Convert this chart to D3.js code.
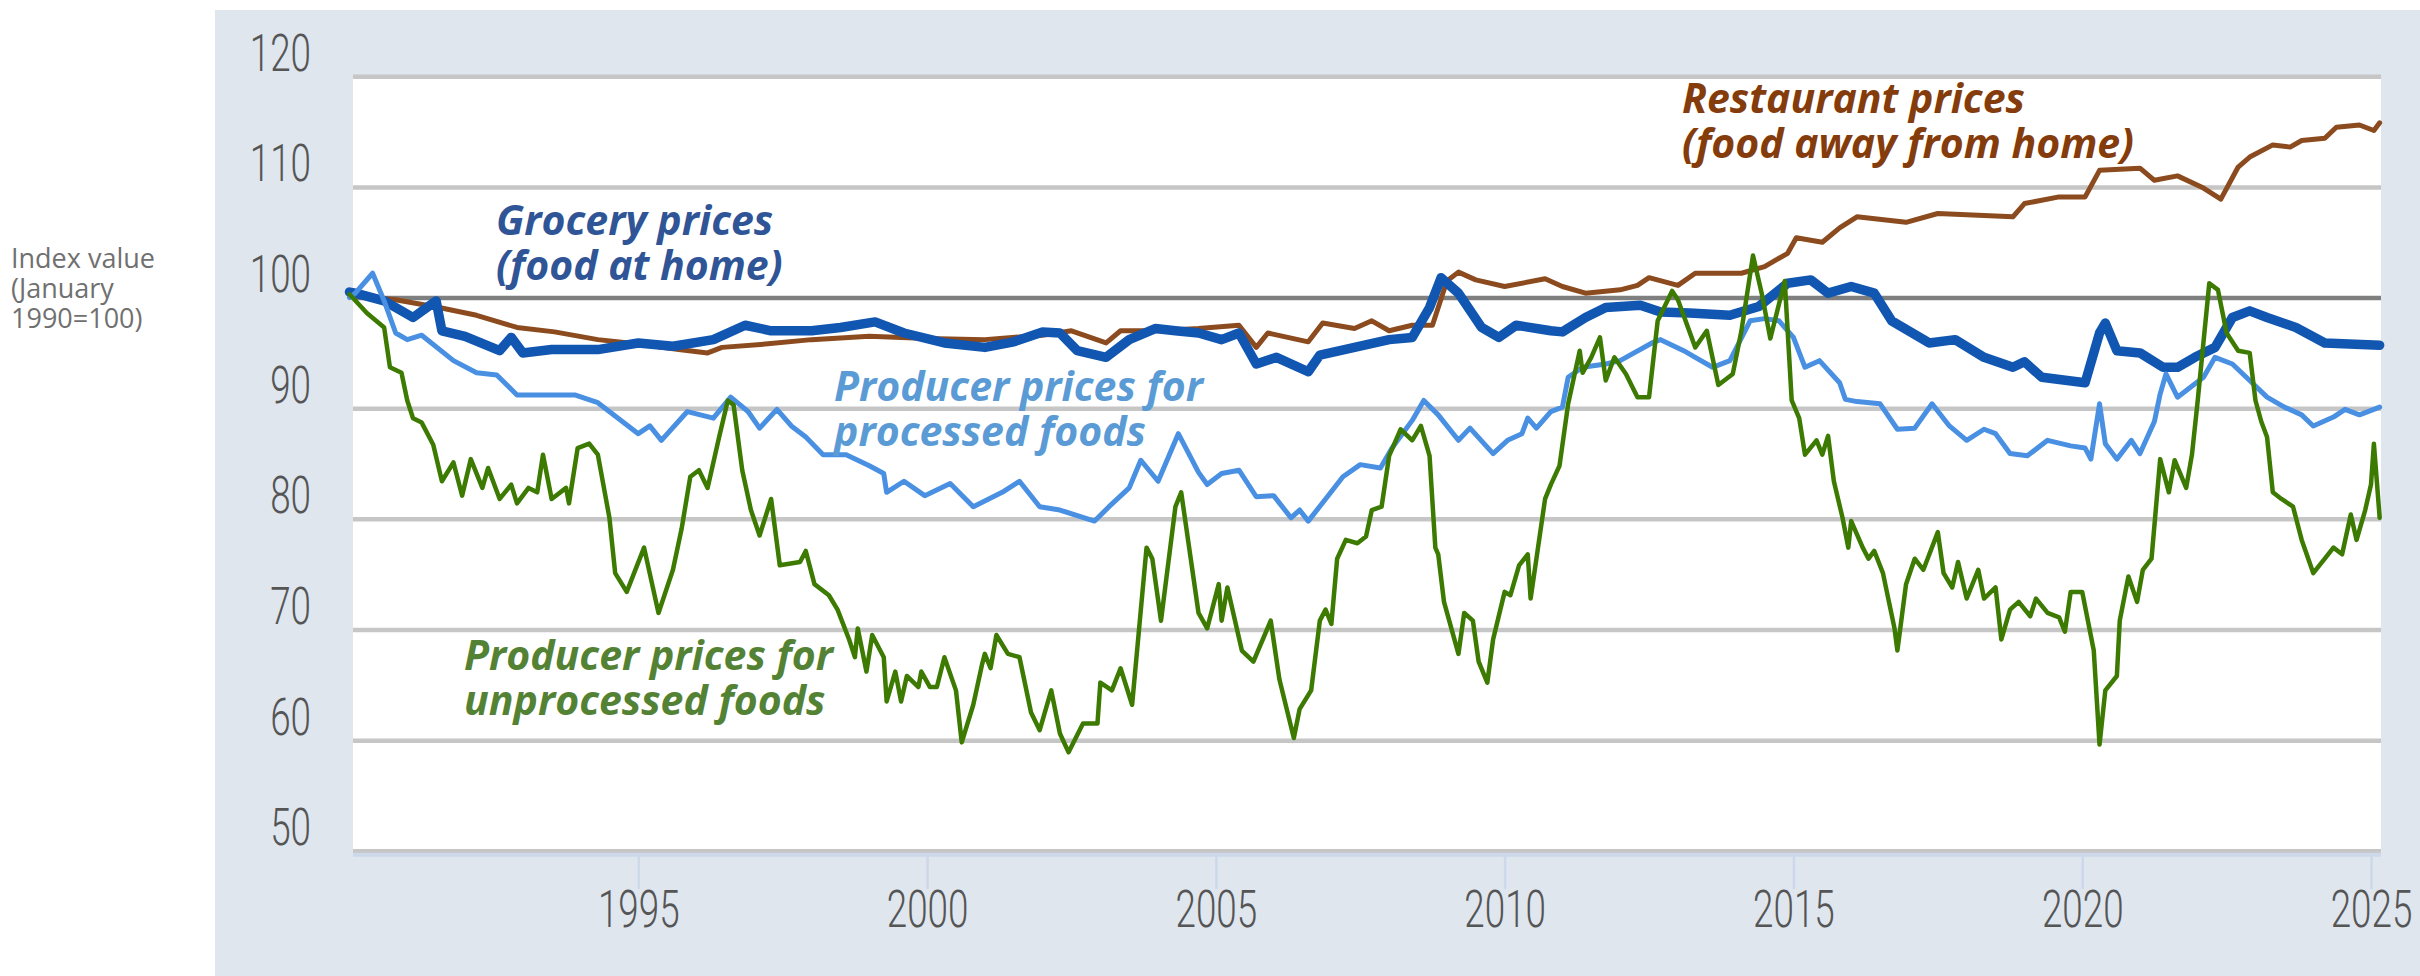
<!DOCTYPE html>
<html>
<head>
<meta charset="utf-8">
<script src="https://cdn.jsdelivr.net/npm/d3@7"></script>
<style>
  body { margin: 0; background: #ffffff; }
  svg { display: block; }
</style>
</head>
<body>
<svg id="chart" width="2420" height="976"></svg>
<script>
// tick values
var yTicks = [50, 60, 70, 80, 90, 100, 110, 120];
var xTicks = [1995, 2000, 2005, 2010, 2015, 2020, 2025];

// series, [year, index value]
var groceryData = [
  [1990.0, 100.5], [1990.1, 100.4], [1990.6, 99.7], [1991.1, 98.2], [1991.5, 99.7], [1991.6, 97.0],
  [1992.0, 96.5], [1992.6, 95.2], [1992.8, 96.4], [1993.0, 95.0], [1993.5, 95.3], [1994.3, 95.3],
  [1995.0, 95.9], [1995.6, 95.6], [1996.3, 96.2], [1996.85, 97.5], [1997.3, 97.0], [1998.0, 97.0],
  [1998.5, 97.3], [1999.1, 97.8], [1999.6, 96.8], [2000.3, 95.9], [2001.0, 95.5], [2001.5, 96.0],
  [2002.0, 96.9], [2002.3, 96.8], [2002.6, 95.2], [2003.1, 94.6], [2003.5, 96.2], [2003.95, 97.2],
  [2004.3, 97.0], [2004.7, 96.8], [2005.1, 96.2], [2005.4, 96.8], [2005.7, 94.0], [2006.05, 94.6],
  [2006.6, 93.3], [2006.8, 94.8], [2007.4, 95.5], [2008.0, 96.2], [2008.4, 96.4], [2008.7, 99.1],
  [2008.9, 101.8], [2009.2, 100.4], [2009.6, 97.3], [2009.9, 96.4], [2010.2, 97.5], [2010.8, 97.0],
  [2011.0, 96.9], [2011.4, 98.2], [2011.75, 99.1], [2012.35, 99.3], [2012.7, 98.7], [2013.2, 98.6],
  [2013.9, 98.4], [2014.4, 99.2], [2014.9, 101.3], [2015.3, 101.6], [2015.6, 100.4], [2016.0, 101.0],
  [2016.4, 100.4], [2016.7, 97.9], [2017.35, 95.9], [2017.8, 96.2], [2018.3, 94.6], [2018.8, 93.7],
  [2019.0, 94.2], [2019.3, 92.8], [2020.05, 92.3], [2020.3, 96.8], [2020.4, 97.7], [2020.6, 95.2],
  [2021.0, 95.0], [2021.4, 93.7], [2021.65, 93.7], [2021.95, 94.6], [2022.3, 95.5], [2022.6, 98.2],
  [2022.9, 98.8], [2023.2, 98.2], [2023.7, 97.3], [2024.2, 95.9], [2025.15, 95.7]
];

var restaurantData = [
  [1990.0, 100.2], [1990.8, 99.8], [1991.55, 99.1], [1992.2, 98.4], [1992.9, 97.3], [1993.55, 96.9],
  [1994.3, 96.2], [1995.0, 95.8], [1995.7, 95.3], [1996.2, 95.0], [1996.45, 95.5], [1997.2, 95.8],
  [1998.0, 96.2], [1999.0, 96.5], [2000.0, 96.3], [2001.0, 96.2], [2002.0, 96.6], [2002.5, 97.0],
  [2003.1, 95.9], [2003.35, 97.0], [2004.0, 97.0], [2004.7, 97.2], [2005.4, 97.5], [2005.7, 95.5],
  [2005.9, 96.8], [2006.6, 96.0], [2006.85, 97.7], [2007.4, 97.2], [2007.7, 97.9], [2008.0, 97.0],
  [2008.4, 97.5], [2008.75, 97.5], [2009.0, 101.5], [2009.2, 102.3], [2009.5, 101.6], [2010.0, 101.0],
  [2010.7, 101.7], [2011.0, 101.0], [2011.4, 100.4], [2012.0, 100.7], [2012.3, 101.1], [2012.5, 101.8],
  [2013.0, 101.1], [2013.3, 102.2], [2014.1, 102.2], [2014.5, 102.8], [2014.9, 104.0], [2015.05, 105.4],
  [2015.5, 105.0], [2015.8, 106.3], [2016.1, 107.3], [2016.95, 106.8], [2017.5, 107.6], [2018.8, 107.3],
  [2019.0, 108.5], [2019.6, 109.1], [2020.05, 109.1], [2020.3, 111.5], [2021.0, 111.7], [2021.25, 110.6],
  [2021.65, 111.0], [2022.1, 109.9], [2022.4, 108.9], [2022.7, 111.8], [2022.9, 112.7], [2023.3, 113.8],
  [2023.6, 113.6], [2023.8, 114.2], [2024.2, 114.4], [2024.4, 115.4], [2024.8, 115.6], [2025.05, 115.1],
  [2025.15, 115.8]
];

var processedData = [
  [1990.0, 100.0], [1990.1, 100.4], [1990.4, 102.2], [1990.6, 99.7], [1990.8, 96.8], [1991.0, 96.2],
  [1991.25, 96.6], [1991.8, 94.3], [1992.2, 93.2], [1992.55, 93.0], [1992.9, 91.2], [1993.9, 91.2],
  [1994.3, 90.5], [1995.0, 87.7], [1995.2, 88.4], [1995.4, 87.1], [1995.85, 89.7], [1996.3, 89.1],
  [1996.6, 91.0], [1996.9, 89.7], [1997.1, 88.2], [1997.4, 89.9], [1997.65, 88.4], [1997.9, 87.4],
  [1998.2, 85.8], [1998.6, 85.8], [1999.0, 84.8], [1999.25, 84.1], [1999.3, 82.4], [1999.6, 83.4],
  [1999.96, 82.1], [2000.4, 83.2], [2000.8, 81.1], [2001.3, 82.4], [2001.6, 83.4], [2001.95, 81.1],
  [2002.3, 80.8], [2002.9, 79.8], [2003.15, 81.1], [2003.5, 82.8], [2003.7, 85.3], [2004.0, 83.4],
  [2004.35, 87.7], [2004.7, 84.2], [2004.85, 83.1], [2005.1, 84.1], [2005.4, 84.4], [2005.7, 82.0],
  [2006.0, 82.1], [2006.3, 80.1], [2006.45, 80.8], [2006.6, 79.8], [2006.9, 81.8], [2007.2, 83.8],
  [2007.5, 84.9], [2007.85, 84.6], [2008.05, 86.4], [2008.4, 88.9], [2008.6, 90.7], [2008.85, 89.4],
  [2009.2, 87.1], [2009.4, 88.2], [2009.8, 85.9], [2010.05, 87.1], [2010.3, 87.7], [2010.4, 89.1],
  [2010.55, 88.2], [2010.8, 89.7], [2011.0, 90.1], [2011.1, 92.8], [2011.35, 93.7], [2011.75, 94.0],
  [2012.0, 94.3], [2012.55, 95.9], [2012.7, 96.2], [2013.1, 95.2], [2013.3, 94.6], [2013.6, 93.7],
  [2013.9, 94.3], [2014.25, 97.9], [2014.5, 98.1], [2014.75, 97.9], [2015.0, 96.4], [2015.2, 93.7],
  [2015.45, 94.3], [2015.8, 92.3], [2015.9, 90.8], [2016.1, 90.6], [2016.5, 90.4], [2016.8, 88.1],
  [2017.1, 88.2], [2017.4, 90.4], [2017.7, 88.4], [2018.0, 87.1], [2018.3, 88.1], [2018.5, 87.7],
  [2018.75, 85.9], [2019.05, 85.7], [2019.4, 87.1], [2019.8, 86.6], [2020.05, 86.4], [2020.15, 85.4],
  [2020.3, 90.4], [2020.4, 86.8], [2020.6, 85.4], [2020.85, 87.1], [2021.0, 85.9], [2021.25, 88.8],
  [2021.35, 91.3], [2021.45, 93.1], [2021.65, 91.0], [2022.1, 92.8], [2022.3, 94.6], [2022.6, 94.0],
  [2022.9, 92.5], [2023.2, 91.0], [2023.5, 90.1], [2023.8, 89.4], [2024.0, 88.4], [2024.35, 89.2],
  [2024.55, 89.9], [2024.8, 89.4], [2025.15, 90.1]
];

var unprocessedData = [
  [1990.0, 100.3], [1990.3, 98.6], [1990.6, 97.3], [1990.7, 93.7], [1990.9, 93.2], [1991.0, 90.7],
  [1991.1, 89.1], [1991.25, 88.7], [1991.45, 86.7], [1991.6, 83.4], [1991.8, 85.1], [1991.95, 82.1],
  [1992.1, 85.4], [1992.3, 82.8], [1992.4, 84.6], [1992.6, 81.8], [1992.8, 83.1], [1992.9, 81.4],
  [1993.1, 82.8], [1993.25, 82.4], [1993.35, 85.8], [1993.5, 81.8], [1993.75, 82.8], [1993.8, 81.4],
  [1993.95, 86.4], [1994.15, 86.8], [1994.3, 85.8], [1994.5, 80.1], [1994.6, 75.1], [1994.8, 73.4],
  [1995.1, 77.4], [1995.35, 71.5], [1995.6, 75.4], [1995.75, 79.1], [1995.9, 83.8], [1996.05, 84.4],
  [1996.2, 82.8], [1996.4, 87.4], [1996.55, 90.7], [1996.65, 90.3], [1996.8, 84.4], [1996.95, 80.8],
  [1997.1, 78.5], [1997.3, 81.8], [1997.45, 75.8], [1997.8, 76.1], [1997.9, 77.1], [1998.05, 74.1],
  [1998.3, 73.1], [1998.45, 71.8], [1998.65, 69.1], [1998.75, 67.5], [1998.8, 70.1], [1998.95, 66.2],
  [1999.05, 69.5], [1999.25, 67.5], [1999.3, 63.5], [1999.45, 66.2], [1999.55, 63.5], [1999.65, 65.8],
  [1999.85, 64.8], [1999.9, 66.2], [2000.05, 64.8], [2000.17, 64.8], [2000.3, 67.5], [2000.5, 64.5],
  [2000.6, 59.8], [2000.8, 63.2], [2000.95, 66.8], [2001.0, 67.8], [2001.1, 66.5], [2001.2, 69.5],
  [2001.4, 67.8], [2001.6, 67.5], [2001.8, 62.5], [2001.95, 60.9], [2002.15, 64.5], [2002.3, 60.6],
  [2002.45, 58.9], [2002.7, 61.5], [2002.95, 61.5], [2003.0, 65.2], [2003.2, 64.5], [2003.35, 66.5],
  [2003.55, 63.2], [2003.8, 77.4], [2003.9, 76.4], [2004.05, 70.8], [2004.3, 81.1], [2004.4, 82.4],
  [2004.7, 71.5], [2004.85, 70.1], [2005.05, 74.1], [2005.1, 70.8], [2005.2, 73.8], [2005.45, 68.1],
  [2005.65, 67.1], [2005.95, 70.8], [2006.1, 65.5], [2006.35, 60.2], [2006.45, 62.8], [2006.65, 64.5],
  [2006.8, 70.8], [2006.9, 71.8], [2007.0, 70.5], [2007.1, 76.4], [2007.25, 78.1], [2007.45, 77.8],
  [2007.6, 78.4], [2007.7, 80.8], [2007.87, 81.1], [2008.0, 85.7], [2008.2, 88.1], [2008.4, 87.1],
  [2008.55, 88.4], [2008.7, 85.7], [2008.8, 77.4], [2008.85, 76.8], [2008.95, 72.5], [2009.2, 67.8],
  [2009.3, 71.5], [2009.45, 70.8], [2009.55, 67.1], [2009.7, 65.2], [2009.8, 69.1], [2010.0, 73.4],
  [2010.1, 73.1], [2010.25, 75.8], [2010.4, 76.8], [2010.45, 72.8], [2010.55, 76.4], [2010.7, 81.8],
  [2010.8, 83.1], [2010.95, 84.8], [2011.1, 90.4], [2011.3, 95.2], [2011.35, 93.2], [2011.5, 94.6],
  [2011.65, 96.4], [2011.75, 92.5], [2011.9, 94.6], [2012.1, 93.1], [2012.3, 91.0], [2012.5, 91.0],
  [2012.65, 97.9], [2012.9, 100.6], [2013.0, 99.8], [2013.3, 95.5], [2013.5, 97.0], [2013.7, 92.1],
  [2013.95, 93.1], [2014.1, 97.0], [2014.3, 103.8], [2014.45, 100.4], [2014.6, 96.3], [2014.85, 101.5],
  [2014.97, 90.7], [2015.1, 89.1], [2015.2, 85.8], [2015.4, 87.1], [2015.5, 85.8], [2015.6, 87.5],
  [2015.7, 83.4], [2015.85, 80.1], [2015.95, 77.4], [2016.0, 79.8], [2016.2, 77.4], [2016.3, 76.4],
  [2016.4, 77.1], [2016.55, 75.1], [2016.75, 70.1], [2016.8, 68.1], [2016.95, 74.1], [2017.1, 76.4],
  [2017.25, 75.4], [2017.5, 78.8], [2017.6, 75.1], [2017.75, 73.8], [2017.85, 76.1], [2018.0, 72.8],
  [2018.2, 75.4], [2018.3, 72.8], [2018.5, 73.8], [2018.6, 69.1], [2018.75, 71.8], [2018.9, 72.5],
  [2019.1, 71.2], [2019.2, 72.8], [2019.4, 71.5], [2019.6, 71.1], [2019.7, 69.8], [2019.8, 73.4],
  [2020.0, 73.4], [2020.2, 68.1], [2020.3, 59.6], [2020.4, 64.5], [2020.6, 65.8], [2020.65, 70.8],
  [2020.8, 74.8], [2020.95, 72.5], [2021.05, 75.4], [2021.2, 76.4], [2021.3, 82.4], [2021.35, 85.4],
  [2021.5, 82.4], [2021.6, 85.3], [2021.8, 82.8], [2021.9, 85.8], [2022.0, 90.7], [2022.2, 101.3],
  [2022.35, 100.7], [2022.5, 96.8], [2022.7, 95.2], [2022.9, 95.0], [2023.0, 90.7], [2023.1, 88.8],
  [2023.2, 87.4], [2023.3, 82.4], [2023.45, 81.8], [2023.65, 81.1], [2023.8, 78.1], [2024.0, 75.1],
  [2024.2, 76.4], [2024.35, 77.4], [2024.5, 76.8], [2024.65, 80.4], [2024.75, 78.1], [2024.9, 80.8],
  [2025.0, 83.1], [2025.05, 86.8], [2025.15, 80.1]
];

var svg = d3.select("#chart");

var plotLeft = 353, plotRight = 2381;
var x = d3.scaleLinear().domain([1990, 2025]).range([349.5, 2371]);
var y = d3.scaleLinear().domain([50, 120]).range([850.8, 76.3]);

var tickFont = "Roboto, 'Open Sans', sans-serif";
var labelFont = "'Open Sans', 'Noto Sans', sans-serif";
var squeeze = "scale(0.722,1)"; // tick digits are narrow in the original

// background panel + white plot area
svg.append("rect").attr("x", 215).attr("y", 10).attr("width", 2205).attr("height", 966).attr("fill", "#dfe6ee");
svg.append("rect").attr("x", plotLeft).attr("y", y(120)).attr("width", plotRight - plotLeft)
  .attr("height", y(50) - y(120)).attr("fill", "#ffffff");

// y axis title
var title = svg.append("text")
  .attr("x", 11).attr("y", 268)
  .style("font-family", labelFont).style("font-size", "27px").attr("fill", "#707070");
["Index value", "(January", "1990=100)"].forEach(function (t, i) {
  title.append("tspan").attr("x", 11).attr("dy", i == 0 ? 0 : 30).text(t);
});

// gridlines
var grid = svg.append("g").attr("transform", "translate(" + plotLeft + ",0)")
  .call(d3.axisLeft(y).tickValues(yTicks).tickSize(-(plotRight - plotLeft)).tickFormat(""));
grid.select(".domain").remove();
grid.selectAll(".tick text").remove();
grid.selectAll(".tick line")
  .attr("stroke", function (d) { return d == 100 ? "#7f7f7f" : "#c6c6c6"; })
  .attr("stroke-width", 4.5);

// y labels (sit above their gridline)
var yAxis = svg.append("g").attr("transform", "translate(311,0)")
  .call(d3.axisLeft(y).tickValues(yTicks).tickSize(0).tickPadding(0));
yAxis.select(".domain").remove();
yAxis.selectAll(".tick line").remove();
yAxis.selectAll(".tick text")
  .attr("x", 0).attr("y", -6).attr("dy", null)
  .attr("text-anchor", "end")
  .attr("transform", squeeze)
  .style("font-family", tickFont).style("font-weight", 300).style("font-size", "51px")
  .attr("fill", "#555555");

// x axis
svg.append("line").attr("x1", plotLeft).attr("x2", plotRight).attr("y1", 854.7).attr("y2", 854.7)
  .attr("stroke", "#cdd8ea").attr("stroke-width", 4);
var xAxis = svg.append("g").attr("transform", "translate(0,856)")
  .call(d3.axisBottom(x).tickValues(xTicks).tickSize(33).tickFormat(d3.format("d")));
xAxis.select(".domain").remove();
xAxis.selectAll(".tick line").attr("stroke", "#cdd8ea").attr("stroke-width", 2.5);
xAxis.selectAll(".tick text")
  .attr("y", 70.7).attr("dy", null)
  .attr("transform", squeeze)
  .style("font-family", tickFont).style("font-weight", 300).style("font-size", "51px")
  .attr("fill", "#555555");

// lines
var line = d3.line().x(function (d) { return x(d[0]); }).y(function (d) { return y(d[1]); });
var series = [
  { data: restaurantData, color: "#8b4b1f", width: 5 },
  { data: groceryData, color: "#1156b0", width: 9.5 },
  { data: processedData, color: "#4a90e2", width: 5 },
  { data: unprocessedData, color: "#3c7a02", width: 4.5 }
];
series.forEach(function (s) {
  svg.append("path").datum(s.data).attr("d", line)
    .attr("fill", "none").attr("stroke", s.color).attr("stroke-width", s.width)
    .attr("stroke-linejoin", "round").attr("stroke-linecap", "round");
});

// annotations
var notes = [
  { lines: ["Grocery prices", "(food at home)"], x: 496, y: 235, color: "#2f5597" },
  { lines: ["Restaurant prices", "(food away from home)"], x: 1682, y: 113, color: "#843c0c" },
  { lines: ["Producer prices for", "processed foods"], x: 834, y: 401, color: "#5b9bd5" },
  { lines: ["Producer prices for", "unprocessed foods"], x: 464, y: 670, color: "#548235" }
];
notes.forEach(function (n) {
  n.lines.forEach(function (l, i) {
    svg.append("text").attr("x", n.x).attr("y", n.y + i * 45)
      .style("font-family", labelFont).style("font-size", "41px")
      .style("font-weight", 700).style("font-style", "italic")
      .attr("fill", n.color)
      .text(l);
  });
});
</script>
</body>
</html>
